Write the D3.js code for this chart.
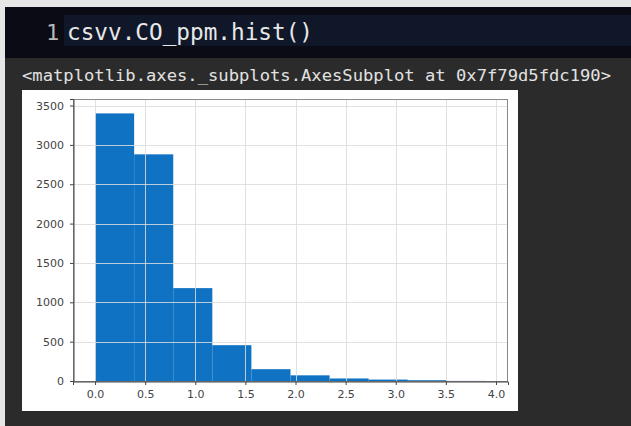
<!DOCTYPE html>
<html><head><meta charset="utf-8">
<script src="https://cdn.jsdelivr.net/npm/d3@7"></script>
<style>html,body{margin:0;padding:0;background:#2b2b2b;overflow:hidden}</style>
</head><body>
<svg id="c" width="631" height="426"></svg>
<script>
const binEdges = [0, 0.39, 0.78, 1.17, 1.56, 1.95, 2.34, 2.73, 3.12, 3.51, 3.9];
const counts = [3400, 2880, 1180, 455, 150, 72, 32, 18, 10, 1];
const xTicks = [0, 0.5, 1.0, 1.5, 2.0, 2.5, 3.0, 3.5, 4.0];
const yTicks = [0, 500, 1000, 1500, 2000, 2500, 3000, 3500];
const codeNumber = "1";
const codeText = "csvv.CO_ppm.hist()";
const outText = "<matplotlib.axes._subplots.AxesSubplot at 0x7f79d5fdc190>";

const svg = d3.select("#c");
// frame
svg.append("rect").attr("x",0).attr("y",0).attr("width",631).attr("height",426).attr("fill","#e6e6e6");
svg.append("rect").attr("x",5).attr("y",7).attr("width",626).attr("height",419).attr("fill","#2b2b2b");
svg.append("rect").attr("x",5).attr("y",7).attr("width",626).attr("height",51).attr("fill","#0b0b16");
svg.append("rect").attr("x",64).attr("y",15).attr("width",567).attr("height",31).attr("fill","#0f1729");
svg.append("text").attr("x",46).attr("y",40).attr("fill","#b8b8b8")
  .attr("font-family","DejaVu Sans Mono").attr("font-size",22).text(codeNumber);
svg.append("text").attr("x",67).attr("y",40).attr("fill","#e8e8e8")
  .attr("font-family","DejaVu Sans Mono").attr("font-size",23)
  .attr("textLength",246).attr("lengthAdjust","spacingAndGlyphs").text(codeText);
svg.append("text").attr("x",22).attr("y",81).attr("fill","#e2e2e2")
  .attr("font-family","DejaVu Sans Mono").attr("font-size",15)
  .attr("textLength",589).attr("lengthAdjust","spacingAndGlyphs").text(outText);

// figure panel
svg.append("rect").attr("x",22).attr("y",90).attr("width",496).attr("height",321).attr("fill","#ffffff");

const L=73, R=508, T=99, B=381;
const x = d3.scaleLinear().domain([-0.22, 4.12]).range([L, R]);
const y = d3.scaleLinear().domain([0, 3583]).range([B, T]);

const bins = counts.map((c,i)=>({x0:binEdges[i], x1:binEdges[i+1], c}));
svg.append("g").selectAll("rect").data(bins).join("rect")
  .attr("x", d=>x(d.x0)).attr("width", d=>x(d.x1)-x(d.x0))
  .attr("y", d=>y(d.c)).attr("height", d=>y(0)-y(d.c))
  .attr("fill","#0f72c2");

// grid
const g = svg.append("g").attr("stroke","#dcdcdc").attr("stroke-opacity",0.85).attr("stroke-width",1);
xTicks.forEach(t=>g.append("line").attr("x1",Math.round(x(t))+0.5).attr("x2",Math.round(x(t))+0.5).attr("y1",T).attr("y2",B));
yTicks.forEach(t=>g.append("line").attr("y1",Math.round(y(t))+0.5).attr("y2",Math.round(y(t))+0.5).attr("x1",L).attr("x2",R));

// spines
svg.append("rect").attr("x",L+0.5).attr("y",T+0.5).attr("width",R-L-1).attr("height",B-T).attr("fill","none").attr("stroke","#8a8a8a");
// axes
const xa = svg.append("g").attr("transform",`translate(0,${B+0.5})`)
  .call(d3.axisBottom(x).tickValues(xTicks).tickFormat(d3.format(".1f")).tickSize(3.5).tickPadding(5));
const ya = svg.append("g").attr("transform",`translate(${L+0.5},0)`)
  .call(d3.axisLeft(y).tickValues(yTicks).tickFormat(d=>String(d)).tickSize(3.5).tickPadding(6));
[xa,ya].forEach(a=>{
  a.select(".domain").attr("stroke","#444");
  a.selectAll(".tick line").attr("stroke","#444");
  a.selectAll(".tick text").attr("fill","#444").attr("font-family","DejaVu Sans").attr("font-size",11);
});
</script>
</body></html>
